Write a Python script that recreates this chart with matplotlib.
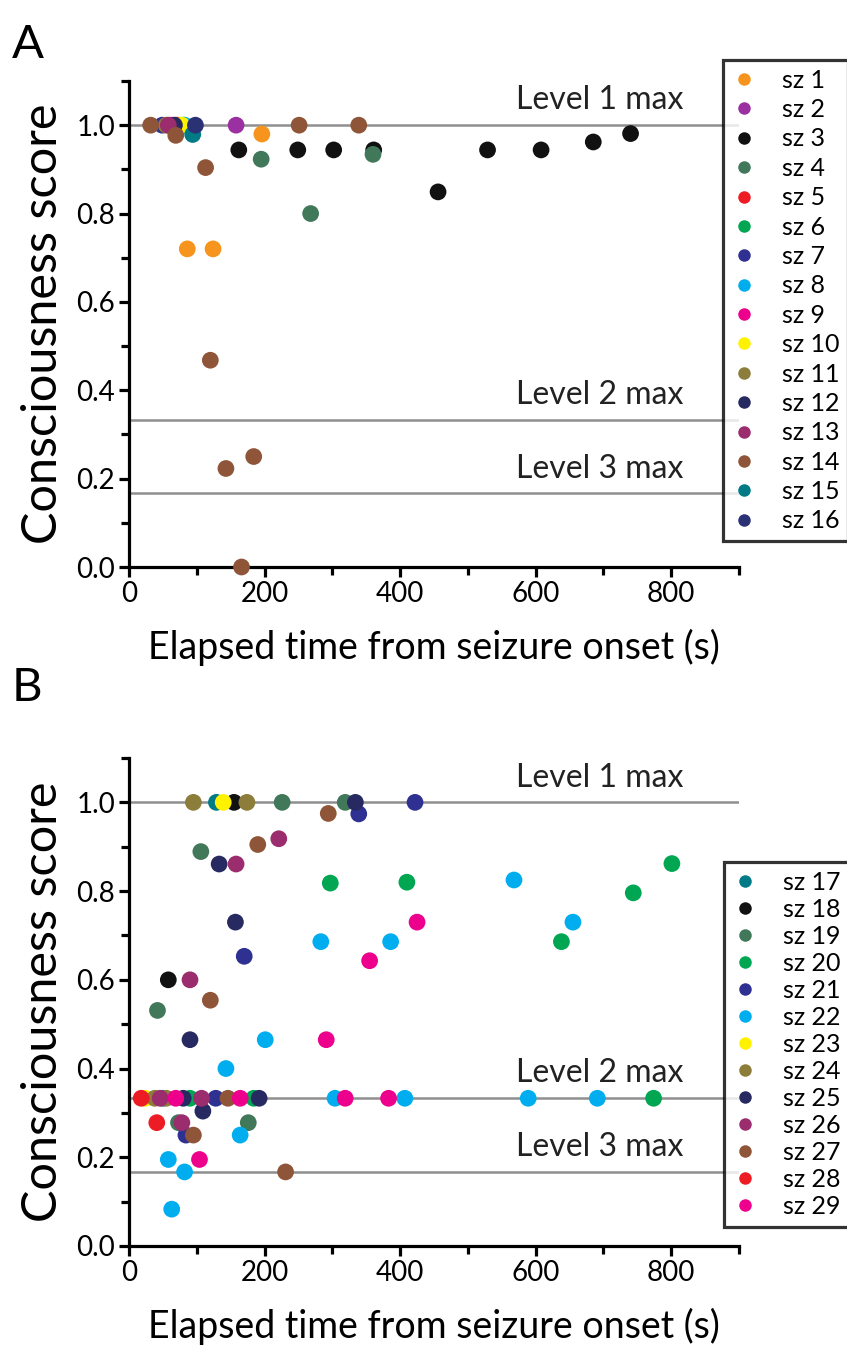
import matplotlib
matplotlib.use("Agg")
import matplotlib.pyplot as plt
from matplotlib.ticker import MultipleLocator, FormatStrFormatter
from matplotlib.lines import Line2D

plt.rcParams['font.family'] = ['Lato', 'DejaVu Sans']

# ---------------- Panel A data (elapsed time s, consciousness score) ----------------
sz1_t = [74, 86, 124, 196];            sz1_s = [1.0, 0.72, 0.72, 0.98]
sz2_t = [158];                         sz2_s = [1.0]
sz3_t = [162, 249, 302, 361, 456, 529, 608, 685, 740]
sz3_s = [0.944, 0.944, 0.944, 0.944, 0.849, 0.944, 0.944, 0.962, 0.981]
sz4_t = [195, 268, 360];               sz4_s = [0.923, 0.80, 0.934]
sz5_t = [70];                          sz5_s = [1.0]
sz6_t = [80];                          sz6_s = [1.0]
sz7_t = [49];                          sz7_s = [1.0]
sz8_t = [82];                          sz8_s = [1.0]
sz9_t = [62];                          sz9_s = [1.0]
sz10_t = [78];                         sz10_s = [1.0]
sz11_t = [55];                         sz11_s = [1.0]
sz12_t = [67];                         sz12_s = [1.0]
sz13_t = [58];                         sz13_s = [1.0]
sz14_t = [32, 69, 113, 120, 143, 166, 184, 251, 339]
sz14_s = [1.0, 0.977, 0.904, 0.468, 0.223, 0.0, 0.25, 1.0, 1.0]
sz15_t = [94];                         sz15_s = [0.979]
sz16_t = [98];                         sz16_s = [1.0]

# ---------------- Panel B data ----------------
sz17_t = [129, 50];                    sz17_s = [1.0, 0.333]
sz18_t = [155, 58];                    sz18_s = [1.0, 0.6]
sz19_t = [226, 319, 106, 42, 73, 176]; sz19_s = [1.0, 1.0, 0.889, 0.531, 0.278, 0.278]
sz20_t = [297, 410, 638, 744, 801, 774, 90, 184]
sz20_s = [0.818, 0.82, 0.686, 0.796, 0.862, 0.333, 0.333, 0.333]
sz21_t = [339, 422, 170, 128, 84];     sz21_s = [0.974, 1.0, 0.653, 0.333, 0.25]
sz22_t = [283, 386, 568, 655, 201, 143, 304, 407, 589, 691, 164, 58, 82, 63]
sz22_s = [0.686, 0.686, 0.825, 0.73, 0.465, 0.4, 0.333, 0.333, 0.333, 0.333,
          0.25, 0.195, 0.167, 0.083]
sz23_t = [139, 24];                    sz23_s = [1.0, 0.333]
sz24_t = [95, 174, 38, 55];            sz24_s = [1.0, 1.0, 0.333, 0.333]
sz25_t = [334, 133, 157, 90, 80, 192, 109]
sz25_s = [1.0, 0.861, 0.73, 0.465, 0.333, 0.333, 0.304]
sz26_t = [221, 158, 90, 46, 107, 78];  sz26_s = [0.918, 0.861, 0.6, 0.333, 0.333, 0.278]
sz27_t = [294, 190, 120, 146, 95, 231]; sz27_s = [0.975, 0.905, 0.554, 0.333, 0.25, 0.167]
sz28_t = [18, 41];                     sz28_s = [0.333, 0.278]
sz29_t = [425, 355, 291, 69, 164, 319, 383, 104]
sz29_s = [0.73, 0.643, 0.465, 0.333, 0.333, 0.333, 0.333, 0.195]

levels = [1.0, 1/3, 1/6]
level_labels = ["Level 1 max", "Level 2 max", "Level 3 max"]

colors = {
    1: '#F7941D', 2: '#9B30A3', 3: '#111111', 4: '#41785A', 5: '#ED1C24',
    6: '#00A651', 7: '#2E3192', 8: '#00AEEF', 9: '#EC008C', 10: '#FFF200',
    11: '#8D7D3A', 12: '#262A60', 13: '#9B2C6E', 14: '#8F5538', 15: '#007A85',
    16: '#2B3175', 17: '#007A85', 18: '#111111', 19: '#41785A', 20: '#00A651',
    21: '#2E3192', 22: '#00AEEF', 23: '#FFF200', 24: '#8D7D3A', 25: '#262A60',
    26: '#9B2C6E', 27: '#8F5538', 28: '#ED1C24', 29: '#EC008C',
}

panelA = [(1, sz1_t, sz1_s), (2, sz2_t, sz2_s), (3, sz3_t, sz3_s), (4, sz4_t, sz4_s),
          (5, sz5_t, sz5_s), (6, sz6_t, sz6_s), (7, sz7_t, sz7_s), (8, sz8_t, sz8_s),
          (9, sz9_t, sz9_s), (10, sz10_t, sz10_s), (11, sz11_t, sz11_s),
          (12, sz12_t, sz12_s), (13, sz13_t, sz13_s), (14, sz14_t, sz14_s),
          (15, sz15_t, sz15_s), (16, sz16_t, sz16_s)]
panelB = [(17, sz17_t, sz17_s), (18, sz18_t, sz18_s), (19, sz19_t, sz19_s),
          (20, sz20_t, sz20_s), (21, sz21_t, sz21_s), (22, sz22_t, sz22_s),
          (23, sz23_t, sz23_s), (24, sz24_t, sz24_s), (25, sz25_t, sz25_s),
          (26, sz26_t, sz26_s), (27, sz27_t, sz27_s), (28, sz28_t, sz28_s),
          (29, sz29_t, sz29_s)]

W, H = 847, 1347
fig = plt.figure(figsize=(W / 100, H / 100), dpi=100)

def px_axes(left, top, right, bottom):
    return fig.add_axes([left / W, 1 - bottom / H, (right - left) / W, (bottom - top) / H])

axA = px_axes(129, 81, 739, 567)
axB = px_axes(129, 758, 739, 1246)

def style(ax, series, legend_box, spacing):
    for lv, lab in zip(levels, level_labels):
        ax.axhline(lv, color='#8f8f8f', lw=1.8, zorder=1)
        ax.text(818, lv + 0.022, lab, ha='right', va='bottom', fontsize=23, color='#222222')
    handles = []
    for k, t, s in series:
        ax.scatter(t, s, s=145, color=colors[k], edgecolors='none', zorder=3, clip_on=False)
        handles.append(Line2D([], [], ls='none', marker='o', ms=9, color=colors[k],
                              markeredgecolor='none', label=f"sz {k}"))
    ax.set_xlim(0, 900)
    ax.set_ylim(0, 1.1)
    for sp in ['top', 'right']:
        ax.spines[sp].set_visible(False)
    for sp in ['left', 'bottom']:
        ax.spines[sp].set_linewidth(2.3)
    ax.xaxis.set_major_locator(MultipleLocator(200))
    ax.xaxis.set_minor_locator(MultipleLocator(100))
    ax.yaxis.set_major_locator(MultipleLocator(0.2))
    ax.yaxis.set_minor_locator(MultipleLocator(0.1))
    ax.yaxis.set_major_formatter(FormatStrFormatter('%.1f'))
    ax.tick_params(which='major', length=7, width=2.3, labelsize=20, direction='out', pad=3)
    ax.tick_params(which='minor', length=6, width=2.3, direction='out')
    ax.set_xlabel("Elapsed time from seizure onset (s)", fontsize=27, labelpad=16)
    ax.set_ylabel("Consciousness score", fontsize=35, labelpad=8)
    leg = fig.legend(handles=handles, loc='upper left',
                     bbox_to_anchor=(legend_box[0] / W, 1 - legend_box[1] / H),
                     bbox_transform=fig.transFigure, frameon=True, fancybox=False,
                     edgecolor='black', fontsize=18, labelspacing=spacing,
                     handletextpad=1.0, borderpad=0.35, handlelength=1.0,
                     borderaxespad=0)
    leg.get_frame().set_linewidth(2.3)

style(axA, panelA, (723, 60), 0.255)
style(axB, panelB, (724, 862), 0.16)

fig.text(12 / W, 1 - 45 / H, "A", fontsize=34, va='center', ha='left')
fig.text(12 / W, 1 - 688 / H, "B", fontsize=34, va='center', ha='left')

fig.savefig("out.png", dpi=100)
